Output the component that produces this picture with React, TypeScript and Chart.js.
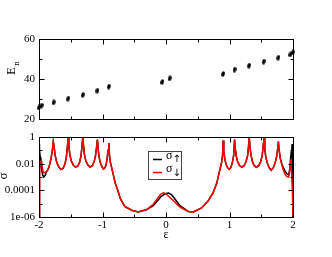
import React, { useEffect, useRef } from "react";
import { Chart, registerables } from "chart.js";

Chart.register(...registerables);

const FONT = "'Liberation Serif', 'Times New Roman', serif";

// ---- top panel: energy levels ----
const levelEps = [-2.0, -1.96, -1.77, -1.54, -1.31, -1.08, -0.9, -0.058, 0.058, 0.9, 1.08, 1.31, 1.54, 1.77, 1.96, 2.0];
const levelEnergy = [25.8, 26.7, 28.3, 30.2, 32.0, 34.2, 36.2, 38.5, 40.3, 42.5, 44.7, 46.7, 48.7, 50.7, 52.3, 53.3];
const energyTicks = [20, 40, 60];
const energyMinorTicks = [30, 50];

// ---- shared x ticks ----
const epsTicks = [-2, -1, 0, 1, 2];
const epsMinorTicks = [-1.5, -0.5, 0.5, 1.5];

// ---- bottom panel: conductance ----
const sigmaTicks = [1e-6, 1e-4, 1e-2, 1];
const sigmaTickLabels = ["1e-06", "0.0001", "0.01", "1"];
const sigmaMinorTicks = [1e-5, 1e-3, 1e-1];

const upEps = [
  -2.0, -1.998, -1.996, -1.993, -1.99, -1.987, -1.98, -1.97, -1.955, -1.94, -1.925, -1.905, -1.88, -1.86, -1.84,
  -1.81, -1.79, -1.775, -1.76, -1.745, -1.72, -1.69, -1.655, -1.62, -1.59, -1.57, -1.555, -1.54, -1.53, -1.515,
  -1.49, -1.46, -1.425, -1.39, -1.36, -1.34, -1.325, -1.31, -1.3, -1.285, -1.26, -1.23, -1.195, -1.16, -1.13,
  -1.11, -1.095, -1.08, -1.07, -1.055, -1.035, -1.01, -0.985, -0.96, -0.94, -0.925, -0.912, -0.9, -0.89, -0.875,
  -0.86, -0.83, -0.8, -0.76, -0.72, -0.65, -0.54, -0.44, -0.31, -0.2, -0.12, -0.08, -0.04, 0.0, 0.04, 0.08, 0.12,
  0.22, 0.35, 0.43, 0.56, 0.66, 0.74, 0.8, 0.83, 0.86, 0.875, 0.89, 0.9, 0.91, 0.925, 0.945, 0.97, 0.995, 1.02,
  1.045, 1.065, 1.08, 1.09, 1.105, 1.125, 1.16, 1.195, 1.23, 1.26, 1.285, 1.3, 1.31, 1.325, 1.34, 1.365, 1.39,
  1.425, 1.46, 1.49, 1.515, 1.53, 1.545, 1.555, 1.57, 1.595, 1.625, 1.655, 1.69, 1.72, 1.745, 1.76, 1.77, 1.78,
  1.8, 1.83, 1.87, 1.9, 1.93, 1.95, 1.96, 1.97, 1.98, 1.985, 1.99, 1.995, 2.0,
];
const upSigma = [
  1e-6, 0.3, 1e-4, 0.25, 2e-3, 0.1, 3e-2, 1e-2, 3e-3, 1.3e-3, 1e-3, 1.3e-3, 2.5e-3, 3.5e-3, 6e-3,
  2.5e-2, 0.1, 0.45, 0.15, 4e-2, 1.2e-2, 6e-3, 3.6e-3, 4.5e-3, 1e-2, 3e-2, 0.15, 0.9, 0.2, 5e-2,
  1.5e-2, 8e-3, 5.5e-3, 6.5e-3, 1.3e-2, 3.5e-2, 0.15, 1.0, 0.25, 5e-2, 1.5e-2, 8e-3, 5.5e-3, 7e-3, 1.5e-2,
  4e-2, 0.15, 0.65, 0.15, 3.5e-2, 1.2e-2, 6e-3, 3.9e-3, 5e-3, 1e-2, 3e-2, 0.1, 0.35, 4e-2, 1.2e-2,
  6e-3, 1.5e-3, 3.5e-4, 1e-4, 2.5e-5, 6.3e-6, 3.2e-6, 2.4e-6, 3.5e-6, 7e-6, 2e-5, 3.3e-5, 4.6e-5, 5.8e-5, 6.2e-5, 5e-5, 3e-5,
  7e-6, 2.6e-6, 2.4e-6, 4.8e-6, 1.5e-5, 6.3e-5, 3.5e-4, 1.5e-3, 6e-3, 1.2e-2, 4e-2, 0.54, 0.1, 2.5e-2, 9e-3, 5e-3, 3.8e-3, 5e-3,
  1.2e-2, 4e-2, 0.65, 0.15, 4e-2, 1.5e-2, 7e-3, 5.4e-3, 7e-3, 1.4e-2, 4e-2, 0.2, 1.0, 0.15, 4e-2, 1.3e-2, 7e-3,
  5.4e-3, 7e-3, 1.4e-2, 4e-2, 0.2, 0.8, 0.15, 3.5e-2, 1.1e-2, 5e-3, 3.2e-3, 5e-3, 1.2e-2, 4e-2, 0.15, 0.45, 0.12,
  2.5e-2, 8e-3, 3e-3, 1.8e-3, 1.4e-3, 4e-3, 2e-2, 6e-2, 0.05, 0.3, 1e-3, 0.1, 1e-6,
];

const downEps = [
  -2.0, -1.995, -1.985, -1.975, -1.965, -1.955, -1.945, -1.93, -1.9, -1.87, -1.84,
  -1.81, -1.79, -1.775, -1.76, -1.745, -1.72, -1.69, -1.655, -1.62, -1.59, -1.57, -1.555, -1.54, -1.53, -1.515,
  -1.49, -1.46, -1.425, -1.39, -1.36, -1.34, -1.325, -1.31, -1.3, -1.285, -1.26, -1.23, -1.195, -1.16, -1.13,
  -1.11, -1.095, -1.08, -1.07, -1.055, -1.035, -1.01, -0.985, -0.96, -0.94, -0.925, -0.912, -0.9, -0.89, -0.875,
  -0.86, -0.83, -0.8, -0.76, -0.72, -0.65, -0.54, -0.44, -0.31, -0.2, -0.12, -0.08, -0.04, 0.0, 0.05, 0.11,
  0.22, 0.35, 0.43, 0.56, 0.66, 0.74, 0.8, 0.83, 0.86, 0.875, 0.89, 0.9, 0.91, 0.925, 0.945, 0.97, 0.995, 1.02,
  1.045, 1.065, 1.08, 1.09, 1.105, 1.125, 1.16, 1.195, 1.23, 1.26, 1.285, 1.3, 1.31, 1.325, 1.34, 1.365, 1.39,
  1.425, 1.46, 1.49, 1.515, 1.53, 1.545, 1.555, 1.57, 1.595, 1.625, 1.655, 1.69, 1.72, 1.745, 1.76, 1.77, 1.78,
  1.8, 1.83, 1.87, 1.9, 1.93, 1.95, 1.965, 1.975, 1.99, 2.0,
];
const downSigma = [
  1e-6, 1e-3, 8e-3, 1.3e-2, 1.6e-2, 8e-3, 4e-3, 2.2e-3, 2.2e-3, 3e-3, 6e-3,
  2.5e-2, 0.1, 0.45, 0.15, 4e-2, 1.2e-2, 6e-3, 3.6e-3, 4.5e-3, 1e-2, 3e-2, 0.15, 0.9, 0.2, 5e-2,
  1.5e-2, 8e-3, 5.5e-3, 6.5e-3, 1.3e-2, 3.5e-2, 0.15, 1.0, 0.25, 5e-2, 1.5e-2, 8e-3, 5.5e-3, 7e-3, 1.5e-2,
  4e-2, 0.15, 0.65, 0.15, 3.5e-2, 1.2e-2, 6e-3, 3.9e-3, 5e-3, 1e-2, 3e-2, 0.1, 0.35, 4e-2, 1.2e-2,
  6e-3, 1.5e-3, 3.5e-4, 1e-4, 2.5e-5, 6.3e-6, 3.2e-6, 2.4e-6, 3.5e-6, 9e-6, 3e-5, 5.2e-5, 6.6e-5, 5.5e-5, 3.3e-5, 1.8e-5,
  5.6e-6, 2.6e-6, 2.4e-6, 4.8e-6, 1.5e-5, 6.3e-5, 3.5e-4, 1.5e-3, 6e-3, 1.2e-2, 4e-2, 0.54, 0.1, 2.5e-2, 9e-3, 5e-3, 3.8e-3, 5e-3,
  1.2e-2, 4e-2, 0.65, 0.15, 4e-2, 1.5e-2, 7e-3, 5.4e-3, 7e-3, 1.4e-2, 4e-2, 0.2, 1.0, 0.15, 4e-2, 1.3e-2, 7e-3,
  5.4e-3, 7e-3, 1.4e-2, 4e-2, 0.2, 0.8, 0.15, 3.5e-2, 1.1e-2, 5e-3, 3.2e-3, 5e-3, 1.2e-2, 4e-2, 0.15, 0.45, 0.12,
  2.5e-2, 6e-3, 1.8e-3, 1.1e-3, 1e-3, 3e-3, 2e-2, 4e-3, 1e-4, 1e-6,
];

const legendLabels = ["σ", "σ"];
const legendSubs = ["↑", "↓"];
const legendColors = ["#000000", "#ff0000"];

function framePlugin(xMajor: number[], xMinor: number[], yMajor: number[], yMinor: number[]) {
  return {
    id: "frameTicks",
    afterDatasetsDraw(chart: any) {
      const { ctx, chartArea: a, scales } = chart;
      const sx = scales.x;
      const sy = scales.y;
      const L = Math.round(a.left) + 0.5;
      const R = Math.round(a.right) + 0.5;
      const T = Math.round(a.top) + 0.5;
      const B = Math.round(a.bottom) + 0.5;
      ctx.save();
      ctx.strokeStyle = "#000";
      ctx.lineWidth = 1;
      ctx.beginPath();
      const xt = (vals: number[], len: number) => {
        vals.forEach((v) => {
          const p = Math.round(sx.getPixelForValue(v)) + 0.5;
          ctx.moveTo(p, B);
          ctx.lineTo(p, B - len);
          ctx.moveTo(p, T);
          ctx.lineTo(p, T + len);
        });
      };
      const yt = (vals: number[], len: number) => {
        vals.forEach((v) => {
          const p = Math.round(sy.getPixelForValue(v)) + 0.5;
          ctx.moveTo(L, p);
          ctx.lineTo(L + len, p);
          ctx.moveTo(R, p);
          ctx.lineTo(R - len, p);
        });
      };
      xt(xMajor, 5);
      xt(xMinor, 3);
      yt(yMajor, 5);
      yt(yMinor, 3);
      ctx.stroke();
      ctx.strokeRect(L, T, R - L, B - T);
      ctx.restore();
    },
  };
}

const topTitlePlugin = {
  id: "topTitle",
  afterDraw(chart: any) {
    const { ctx } = chart;
    ctx.save();
    ctx.fillStyle = "#000";
    ctx.translate(15, 71);
    ctx.rotate(-Math.PI / 2);
    ctx.textAlign = "center";
    ctx.textBaseline = "alphabetic";
    ctx.font = `12px ${FONT}`;
    ctx.fillText("E", 0, 0);
    ctx.font = `9px ${FONT}`;
    ctx.fillText("n", 7.5, 4);
    ctx.restore();
  },
};

const bottomExtrasPlugin = {
  id: "bottomExtras",
  afterDraw(chart: any) {
    const { ctx } = chart;
    ctx.save();
    ctx.fillStyle = "#000";
    ctx.translate(6.7, 176);
    ctx.rotate(-Math.PI / 2);
    ctx.textAlign = "center";
    ctx.textBaseline = "alphabetic";
    ctx.font = `13px ${FONT}`;
    ctx.fillText("σ", 0, 0);
    ctx.restore();

    // legend box
    ctx.save();
    ctx.fillStyle = "#fff";
    ctx.fillRect(148.5, 151.5, 33, 28);
    ctx.strokeStyle = "#444";
    ctx.lineWidth = 1;
    ctx.strokeRect(148.5, 151.5, 33, 28);
    const rows = [159.5, 172.5];
    rows.forEach((y, i) => {
      ctx.strokeStyle = legendColors[i];
      ctx.lineWidth = 1.5;
      ctx.beginPath();
      ctx.moveTo(153, y);
      ctx.lineTo(162, y);
      ctx.stroke();
      ctx.fillStyle = "#000";
      ctx.textAlign = "left";
      ctx.textBaseline = "alphabetic";
      ctx.font = `12px ${FONT}`;
      ctx.fillText(legendLabels[i], 166, i === 0 ? 158.5 : 171.5);
      ctx.font = `10px 'DejaVu Sans', sans-serif`;
      ctx.fillText(legendSubs[i], 172.5, i === 0 ? 162 : 176);
    });
    ctx.restore();
  },
};

export default function App() {
  const topRef = useRef<HTMLCanvasElement>(null);
  const botRef = useRef<HTMLCanvasElement>(null);

  useEffect(() => {
    const dot = document.createElement("canvas");
    dot.width = 4;
    dot.height = 6;
    const dc = dot.getContext("2d")!;
    dc.fillStyle = "#000";
    dc.beginPath();
    dc.ellipse(2, 3, 1.7, 2.7, 0.25, 0, Math.PI * 2);
    dc.fill();

    const tickFont = { family: FONT, size: 11 };

    const top = new Chart(topRef.current!, {
      type: "scatter",
      data: {
        datasets: [
          {
            label: "E_n",
            data: levelEps.map((x, i) => ({ x, y: levelEnergy[i] })),
            pointStyle: dot as any,
            pointRadius: 3,
            clip: false as any,
          },
        ],
      },
      options: {
        animation: false,
        responsive: false,
        events: [],
        layout: { padding: { left: 0, top: 39, right: 39, bottom: 138 } },
        plugins: { legend: { display: false }, tooltip: { enabled: false } },
        scales: {
          x: { type: "linear", display: false, min: -2, max: 2 },
          y: {
            type: "linear",
            min: 20,
            max: 60,
            afterBuildTicks: (s: any) => {
              s.ticks = energyTicks.map((v) => ({ value: v }));
            },
            afterFit: (s: any) => {
              s.width = 39;
            },
            grid: { display: false, drawTicks: false },
            border: { display: false },
            ticks: { color: "#000", padding: 4, font: tickFont },
          },
        },
      },
      plugins: [framePlugin(epsTicks, epsMinorTicks, energyTicks, energyMinorTicks), topTitlePlugin],
    });

    const bottom = new Chart(botRef.current!, {
      type: "scatter",
      data: {
        datasets: [
          {
            label: "σ↑",
            data: upEps.map((x, i) => ({ x, y: upSigma[i] })),
            borderColor: "#000000",
            backgroundColor: "#000000",
            borderWidth: 1.5,
            pointRadius: 0,
            showLine: true,
            order: 2,
          },
          {
            label: "σ↓",
            data: downEps.map((x, i) => ({ x, y: downSigma[i] })),
            borderColor: "#ff0000",
            backgroundColor: "#ff0000",
            borderWidth: 1.5,
            pointRadius: 0,
            showLine: true,
            order: 1,
          },
        ],
      },
      options: {
        animation: false,
        responsive: false,
        events: [],
        layout: { padding: { left: 0, top: 137, right: 39, bottom: 0 } },
        plugins: { legend: { display: false }, tooltip: { enabled: false } },
        scales: {
          x: {
            type: "linear",
            min: -2,
            max: 2,
            afterBuildTicks: (s: any) => {
              s.ticks = epsTicks.map((v) => ({ value: v }));
            },
            afterFit: (s: any) => {
              s.height = 40;
            },
            grid: { display: false, drawTicks: false },
            border: { display: false },
            ticks: { color: "#000", padding: 2, font: tickFont, maxRotation: 0 },
            title: {
              display: true,
              text: "ε",
              color: "#000",
              font: { family: FONT, size: 12 },
              padding: { top: 0, bottom: 15 },
            },
          },
          y: {
            type: "logarithmic",
            min: 1e-6,
            max: 1,
            afterBuildTicks: (s: any) => {
              s.ticks = sigmaTicks.map((v) => ({ value: v }));
            },
            afterFit: (s: any) => {
              s.width = 39;
            },
            grid: { display: false, drawTicks: false },
            border: { display: false },
            ticks: {
              color: "#000",
              padding: 4,
              font: tickFont,
              callback: (v: any) => {
                const i = sigmaTicks.findIndex((t) => Math.abs(Math.log10(t) - Math.log10(Number(v))) < 1e-6);
                return i >= 0 ? sigmaTickLabels[i] : "";
              },
            },
          },
        },
      },
      plugins: [framePlugin(epsTicks, epsMinorTicks, sigmaTicks, sigmaMinorTicks), bottomExtrasPlugin],
    });

    return () => {
      top.destroy();
      bottom.destroy();
    };
  }, []);

  return (
    <div style={{ position: "fixed", left: 0, top: 0, width: 332, height: 257, background: "#fff" }}>
      <canvas ref={botRef} width={332} height={257} style={{ position: "absolute", left: 0, top: 0 }} />
      <canvas ref={topRef} width={332} height={257} style={{ position: "absolute", left: 0, top: 0 }} />
    </div>
  );
}
